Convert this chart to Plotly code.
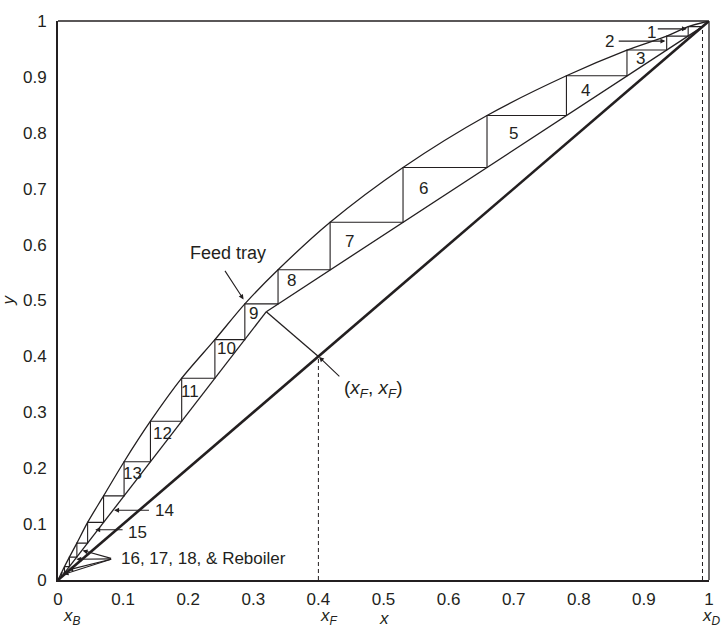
import plotly.graph_objects as go

# ---------------- data ----------------
x_D = 0.99
x_F = 0.40
x_B = 0.005
x_int, y_int = 0.32, 0.48          # intersection of operating lines with q-line

# stage corners on the equilibrium curve (top-left corner of each step)
stage_x = [0.968, 0.935, 0.874, 0.781, 0.659, 0.530, 0.418, 0.338, 0.287, 0.241,
           0.190, 0.142, 0.1015, 0.070, 0.0455, 0.029, 0.0175, 0.010, 0.0052]
stage_y = [0.990, 0.973, 0.948, 0.902, 0.831, 0.738, 0.640, 0.555, 0.494, 0.430,
           0.361, 0.284, 0.2116, 0.1505, 0.103, 0.066, 0.041, 0.024, 0.0125]

# label positions of step numbers (data coords)
label_pos = {
    "3": (0.895, 0.9335), "4": (0.811, 0.876), "5": (0.699, 0.7995),
    "6": (0.5617, 0.7007), "7": (0.447, 0.6055), "8": (0.358, 0.535),
    "9": (0.301, 0.476), "10": (0.259, 0.4145), "11": (0.203, 0.338),
    "12": (0.160, 0.2616), "13": (0.114, 0.191),
}

tick_vals = [0, 0.1, 0.2, 0.3, 0.4, 0.5, 0.6, 0.7, 0.8, 0.9, 1]
tick_text = ["0", "0.1", "0.2", "0.3", "0.4", "0.5", "0.6", "0.7", "0.8", "0.9", "1"]

INK = "#231f20"
FONT = "Liberation Sans, Arial, sans-serif"
FS = 17

# equilibrium curve points: (0,0), stage corners, (1,1)
eq_x = [0.0] + sorted(stage_x) + [1.0]
eq_y = [0.0] + sorted(stage_y) + [1.0]

# staircase path
st_x = [x_D]
st_y = [stage_y[0]]
for i in range(len(stage_x)):
    st_x += [stage_x[i], stage_x[i]]
    st_y += [stage_y[i], stage_y[i + 1] if i + 1 < len(stage_y) else x_B]

fig = go.Figure()

# 45-degree line
fig.add_trace(go.Scatter(x=[0, 1], y=[0, 1], mode="lines",
                         line=dict(color=INK, width=2.6), hoverinfo="skip"))
# equilibrium curve
fig.add_trace(go.Scatter(x=eq_x, y=eq_y, mode="lines",
                         line=dict(color=INK, width=1.3, shape="spline", smoothing=0.8),
                         hoverinfo="skip"))
# rectifying operating line
fig.add_trace(go.Scatter(x=[x_D, x_int], y=[x_D, y_int], mode="lines",
                         line=dict(color=INK, width=1.3), hoverinfo="skip"))
# stripping operating line
fig.add_trace(go.Scatter(x=[x_B, x_int], y=[x_B, y_int], mode="lines",
                         line=dict(color=INK, width=1.3), hoverinfo="skip"))
# q-line
fig.add_trace(go.Scatter(x=[x_F, x_int], y=[x_F, y_int], mode="lines",
                         line=dict(color=INK, width=1.3), hoverinfo="skip"))
# staircase
fig.add_trace(go.Scatter(x=st_x, y=st_y, mode="lines",
                         line=dict(color=INK, width=1.1), hoverinfo="skip"))
# dashed verticals
fig.add_trace(go.Scatter(x=[x_F, x_F], y=[0, x_F], mode="lines",
                         line=dict(color=INK, width=1, dash="4px,3px"), hoverinfo="skip"))
fig.add_trace(go.Scatter(x=[x_D, x_D], y=[0, x_D], mode="lines",
                         line=dict(color=INK, width=1, dash="4px,3px"), hoverinfo="skip"))

ann = []

def text(x, y, s, xanchor="center", size=FS, **kw):
    ann.append(dict(x=x, y=y, xref="x", yref="y", text=s, showarrow=False,
                    xanchor=xanchor, yanchor="middle",
                    font=dict(family=FONT, size=size, color=INK), **kw))

def arrow(x0, y0, x1, y1):
    ann.append(dict(x=x1, y=y1, ax=x0, ay=y0, xref="x", yref="y", axref="x", ayref="y",
                    text="", showarrow=True, arrowhead=2, arrowsize=0.9,
                    arrowwidth=1.1, arrowcolor=INK, standoff=0, startstandoff=0))

for k, (lx, ly) in label_pos.items():
    text(lx, ly, k)

text(0.9115, 0.979, "1")
arrow(0.919, 0.986, 0.966, 0.986)
text(0.8465, 0.964, "2")
arrow(0.859, 0.964, 0.933, 0.964)
text(0.163, 0.1247, "14")
arrow(0.142, 0.1247, 0.0862, 0.1247)
text(0.1218, 0.0852, "15")
arrow(0.1015, 0.090, 0.0572, 0.090)
text(0.0938, 0.0393, "16, 17, 18, &amp; Reboiler", xanchor="left")
for hx, hy in [(0.0378, 0.0529), (0.0282, 0.037), (0.0155, 0.018), (0.0085, 0.010)]:
    arrow(0.0839, 0.0379, hx, hy)
text(0.2606, 0.585, "Feed tray", size=18)
arrow(0.255, 0.5556, 0.285, 0.502)
text(0.437, 0.341, "(<i>x<sub>F</sub></i>, <i>x<sub>F</sub></i>)", xanchor="left", size=19)
arrow(0.4345, 0.3616, 0.401, 0.399)

# bottom sub-labels
for xv, s in [(0.004, "<i>x<sub>B</sub></i>"), (0.399, "<i>x<sub>F</sub></i>"),
              (0.986, "<i>x<sub>D</sub></i>")]:
    ann.append(dict(x=xv, y=0, xref="x", yref="paper", text=s, showarrow=False,
                    xanchor="left", yanchor="middle", yshift=-37,
                    font=dict(family=FONT, size=FS, color=INK)))
ann.append(dict(x=0.5, y=0, xref="paper", yref="paper", text="<i>x</i>", showarrow=False,
                xanchor="center", yanchor="middle", yshift=-38,
                font=dict(family=FONT, size=FS, color=INK)))
ann.append(dict(x=0, y=0.5, xref="paper", yref="paper", text="<i>y</i>", showarrow=False,
                xanchor="center", yanchor="middle", xshift=-50, textangle=-90,
                font=dict(family=FONT, size=FS, color=INK)))

fig.update_layout(
    width=726, height=627,
    margin=dict(l=58, r=12, t=13, b=47),
    paper_bgcolor="white", plot_bgcolor="white",
    showlegend=False,
    annotations=ann,
    shapes=[
        dict(type="line", xref="paper", yref="paper", x0=0, y0=1, x1=1, y1=1,
             line=dict(color=INK, width=1.3)),
        dict(type="line", xref="paper", yref="paper", x0=1, y0=0, x1=1, y1=1,
             line=dict(color=INK, width=1.3)),
    ],
)
fig.update_xaxes(range=[0, 1], tickvals=tick_vals, ticktext=tick_text, ticks="",
                 showgrid=False, zeroline=False, showline=True, linecolor=INK, linewidth=2,
                 tickfont=dict(family=FONT, size=FS, color=INK), ticklabelstandoff=3)
fig.update_yaxes(range=[0, 1], tickvals=tick_vals, ticktext=tick_text, ticks="",
                 showgrid=False, zeroline=False, showline=True, linecolor=INK, linewidth=2,
                 tickfont=dict(family=FONT, size=FS, color=INK), ticklabelstandoff=6)

fig.write_html("out.html")
